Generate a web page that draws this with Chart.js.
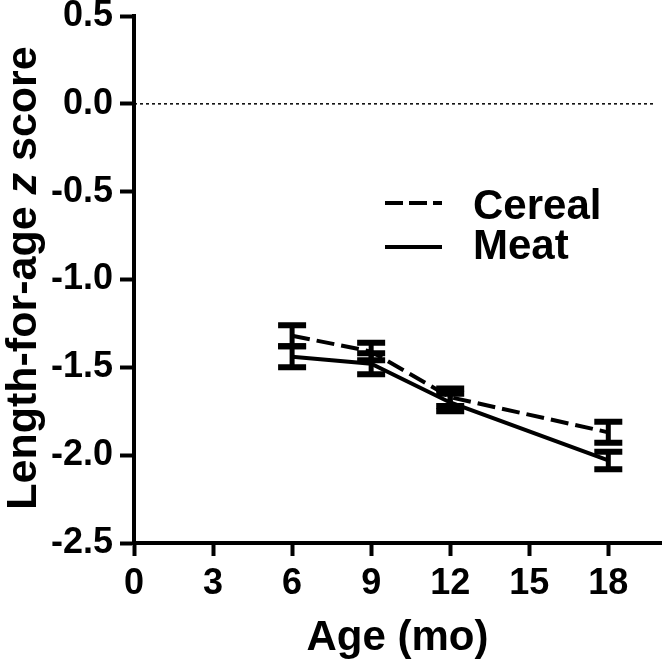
<!DOCTYPE html>
<html>
<head>
<meta charset="utf-8">
<script src="https://cdn.jsdelivr.net/npm/chart.js@4/dist/chart.umd.min.js"></script>
<style>
  html, body { margin: 0; padding: 0; background: #fff; }
  #wrap { width: 664px; height: 666px; }
</style>
</head>
<body>
<div id="wrap"><canvas id="chart" width="664" height="666"></canvas></div>
<script>
// values
const ages = [6, 9, 12, 18]
const cerealMean = [-1.32, -1.41, -1.67, -1.87]
const cerealSE = [0.06, 0.05, 0.05, 0.06]
const meatMean = [-1.44, -1.48, -1.70, -2.03]
const meatSE = [0.06, 0.06, 0.05, 0.05]

const xTicks = [0, 3, 6, 9, 12, 15, 18]
const yTicks = [0.5, 0, -0.5, -1, -1.5, -2, -2.5]
const seriesNames = ['Cereal', 'Meat']

const FONT = "'Liberation Sans', Arial, sans-serif"

function points(means) {
    return ages.map((a, i) => ({ x: a, y: means[i] }))
}

// error bars, axis titles and legend drawn on top
const extras = {
    id: 'extras',
    afterDatasetsDraw(chart) {
        const ctx = chart.ctx
        const xs = chart.scales.x
        const ys = chart.scales.y
        ctx.save()
        ctx.strokeStyle = '#000'
        ctx.lineCap = 'butt'
        const groups = [[cerealMean, cerealSE], [meatMean, meatSE]]
        groups.forEach(([means, se]) => {
            ages.forEach((a, i) => {
                const px = xs.getPixelForValue(a)
                const top = ys.getPixelForValue(means[i] + se[i])
                const bot = ys.getPixelForValue(means[i] - se[i])
                ctx.lineWidth = 5
                ctx.beginPath()
                ctx.moveTo(px, top)
                ctx.lineTo(px, bot)
                ctx.stroke()
                ctx.lineWidth = 6
                ctx.beginPath()
                ctx.moveTo(px - 14, top)
                ctx.lineTo(px + 14, top)
                ctx.moveTo(px - 14, bot)
                ctx.lineTo(px + 14, bot)
                ctx.stroke()
            })
        })
        ctx.restore()
    },
    afterDraw(chart) {
        const ctx = chart.ctx
        const area = chart.chartArea
        ctx.save()
        ctx.fillStyle = '#000'

        // x title
        ctx.font = 'bold 42px ' + FONT
        ctx.textAlign = 'center'
        ctx.textBaseline = 'alphabetic'
        ctx.fillText('Age (mo)', (area.left + area.right) / 2, 650)

        // y title with italic z
        const parts = [
            ['Length-for-age ', 'bold 43px ' + FONT],
            ['z', 'italic bold 43px ' + FONT],
            [' score', 'bold 43px ' + FONT]
        ]
        let total = 0
        parts.forEach(p => { ctx.font = p[1]; total += ctx.measureText(p[0]).width })
        ctx.translate(36, 278)
        ctx.rotate(-Math.PI / 2)
        ctx.textAlign = 'left'
        let cx = -total / 2
        parts.forEach(p => {
            ctx.font = p[1]
            ctx.fillText(p[0], cx, 0)
            cx += ctx.measureText(p[0]).width
        })
        ctx.setTransform(1, 0, 0, 1, 0, 0)

        // legend
        const rows = [[203, 219, [18, 6]], [247, 259, []]]
        ctx.strokeStyle = '#000'
        ctx.lineWidth = 4
        ctx.font = 'bold 42px ' + FONT
        ctx.textAlign = 'left'
        ctx.textBaseline = 'alphabetic'
        rows.forEach(([y, base, dash], i) => {
            ctx.setLineDash(dash)
            ctx.beginPath()
            ctx.moveTo(385, y)
            ctx.lineTo(442, y)
            ctx.stroke()
            ctx.fillText(seriesNames[i], 473, base)
        })
        ctx.restore()
    }
}

const axisFont = { family: FONT, weight: 'bold', size: 36 }

new Chart(document.getElementById('chart').getContext('2d'), {
    type: 'line',
    data: {
        datasets: [
            {
                label: 'zero',
                data: [{ x: 0, y: 0 }, { x: 19.8, y: 0 }],
                borderColor: '#000',
                borderWidth: 1.5,
                borderDash: [3, 3],
                pointRadius: 0
            },
            {
                label: seriesNames[0],
                data: points(cerealMean),
                borderColor: '#000',
                borderWidth: 4,
                borderDash: [18, 7],
                pointRadius: 0,
                tension: 0
            },
            {
                label: seriesNames[1],
                data: points(meatMean),
                borderColor: '#000',
                borderWidth: 4,
                pointRadius: 0,
                tension: 0
            }
        ]
    },
    options: {
        responsive: false,
        animation: false,
        layout: { padding: { top: 16, right: 3, left: 0, bottom: 0 } },
        plugins: { legend: { display: false }, tooltip: { enabled: false } },
        scales: {
            x: {
                type: 'linear',
                min: 0,
                max: 20,
                afterBuildTicks: s => { s.ticks = xTicks.map(v => ({ value: v })) },
                afterFit: s => { s.height = 123; s.paddingLeft = 0; s.paddingRight = 0 },
                border: { display: true, color: '#000', width: 4 },
                grid: { drawOnChartArea: false, drawTicks: true, tickLength: 13, tickWidth: 4, tickColor: '#000' },
                ticks: { color: '#000', font: axisFont, padding: 6, maxRotation: 0, autoSkip: false }
            },
            y: {
                type: 'linear',
                min: -2.5,
                max: 0.5,
                afterBuildTicks: s => { s.ticks = yTicks.map(v => ({ value: v })) },
                afterFit: s => { s.width = 134; s.paddingTop = 0; s.paddingBottom = 0 },
                border: { display: true, color: '#000', width: 4 },
                grid: { drawOnChartArea: false, drawTicks: true, tickLength: 14, tickWidth: 4, tickColor: '#000' },
                ticks: { color: '#000', font: axisFont, padding: 7, autoSkip: false, callback: v => v.toFixed(1) }
            }
        }
    },
    plugins: [extras]
})
</script>
</body>
</html>
